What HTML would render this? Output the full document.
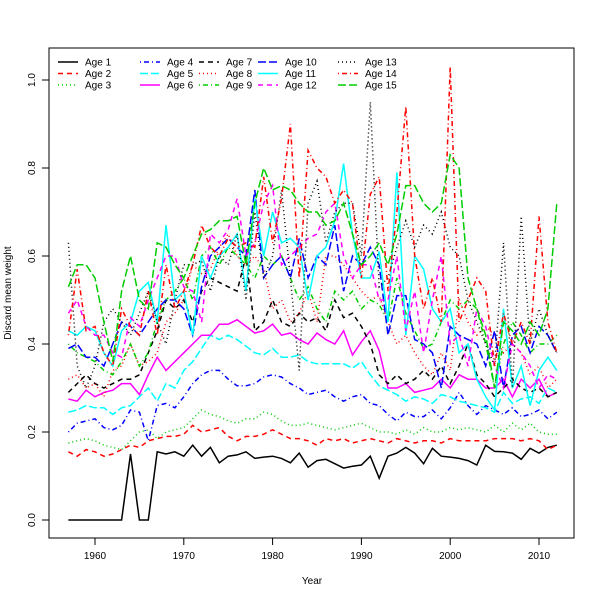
<!DOCTYPE html>
<html><head><meta charset="utf-8"><style>
body{margin:0;background:#fff}
svg{font-family:"Liberation Sans",sans-serif}
</style></head><body>
<svg id="chart" width="600" height="600" xmlns="http://www.w3.org/2000/svg">
<rect x="49" y="48" width="525" height="490" fill="none" stroke="#000"/>
<g id="axes"></g><g id="series"></g><g id="legend"></g>
<text x="312" y="584" font-size="10" text-anchor="middle">Year</text>
<text x="11" y="293" font-size="10" text-anchor="middle" transform="rotate(-90 11 293)">Discard mean weight</text>
</svg>
<script>
const startYear = 1957;
const xTicks = [1960,1970,1980,1990,2000,2010];
const yTicks = [0,0.2,0.4,0.6,0.8,1.0];
const yTickLabels = ["0.0","0.2","0.4","0.6","0.8","1.0"];
const seriesNames = ["Age 1","Age 2","Age 3","Age 4","Age 5","Age 6","Age 7","Age 8","Age 9","Age 10","Age 11","Age 12","Age 13","Age 14","Age 15"];
const age1 = [0,0,0,0,0,0,0,0.15,0,0,0.155,0.15,0.155,0.145,0.17,0.145,0.165,0.13,0.145,0.148,0.155,0.14,0.143,0.145,0.14,0.13,0.152,0.12,0.135,0.138,0.128,0.118,0.122,0.125,0.145,0.095,0.145,0.152,0.165,0.152,0.128,0.163,0.145,0.143,0.14,0.135,0.125,0.17,0.156,0.155,0.152,0.138,0.163,0.152,0.165,0.17];
const age2 = [0.155,0.145,0.16,0.155,0.145,0.15,0.16,0.17,0.165,0.18,0.185,0.19,0.19,0.195,0.215,0.2,0.205,0.21,0.19,0.18,0.19,0.19,0.195,0.205,0.195,0.185,0.185,0.18,0.17,0.185,0.18,0.185,0.175,0.18,0.185,0.18,0.175,0.185,0.18,0.175,0.18,0.18,0.175,0.185,0.18,0.18,0.18,0.18,0.185,0.185,0.185,0.18,0.185,0.18,0.16,0.17];
const age3 = [0.175,0.18,0.185,0.18,0.17,0.165,0.16,0.18,0.2,0.205,0.185,0.2,0.205,0.21,0.23,0.25,0.24,0.235,0.225,0.22,0.23,0.23,0.245,0.24,0.225,0.215,0.215,0.22,0.215,0.21,0.205,0.21,0.215,0.22,0.21,0.2,0.2,0.195,0.205,0.195,0.21,0.2,0.2,0.21,0.205,0.21,0.205,0.2,0.215,0.2,0.22,0.205,0.22,0.2,0.195,0.195];
const age4 = [0.2,0.22,0.225,0.23,0.21,0.205,0.215,0.25,0.245,0.18,0.26,0.265,0.255,0.28,0.31,0.33,0.34,0.34,0.32,0.305,0.305,0.31,0.325,0.33,0.325,0.31,0.3,0.285,0.29,0.295,0.28,0.27,0.28,0.285,0.265,0.26,0.24,0.225,0.245,0.235,0.235,0.25,0.23,0.255,0.29,0.26,0.24,0.26,0.25,0.24,0.255,0.235,0.24,0.25,0.23,0.245];
const age5 = [0.245,0.25,0.26,0.255,0.255,0.24,0.255,0.26,0.28,0.3,0.27,0.31,0.3,0.34,0.36,0.39,0.42,0.41,0.42,0.41,0.395,0.38,0.375,0.39,0.37,0.37,0.375,0.36,0.355,0.355,0.355,0.355,0.345,0.36,0.33,0.305,0.295,0.285,0.27,0.28,0.275,0.265,0.285,0.28,0.27,0.265,0.26,0.255,0.245,0.29,0.265,0.275,0.28,0.265,0.3,0.29];
const age6 = [0.275,0.27,0.295,0.28,0.29,0.295,0.31,0.31,0.285,0.33,0.37,0.34,0.36,0.38,0.4,0.42,0.42,0.445,0.445,0.455,0.44,0.425,0.43,0.445,0.42,0.425,0.41,0.4,0.425,0.41,0.4,0.43,0.375,0.405,0.43,0.385,0.3,0.3,0.31,0.29,0.295,0.3,0.32,0.3,0.33,0.32,0.32,0.3,0.3,0.32,0.28,0.32,0.3,0.32,0.28,0.29];
const age7 = [0.29,0.31,0.33,0.31,0.3,0.31,0.32,0.32,0.33,0.38,0.43,0.5,0.48,0.5,0.45,0.52,0.55,0.54,0.53,0.52,0.6,0.43,0.45,0.5,0.45,0.44,0.47,0.45,0.46,0.43,0.5,0.46,0.47,0.44,0.4,0.33,0.31,0.33,0.31,0.32,0.34,0.32,0.35,0.31,0.35,0.4,0.33,0.31,0.28,0.3,0.32,0.3,0.29,0.3,0.28,0.29];
const age8 = [0.32,0.33,0.3,0.31,0.28,0.34,0.35,0.4,0.35,0.36,0.38,0.45,0.47,0.5,0.58,0.56,0.57,0.62,0.65,0.6,0.58,0.6,0.57,0.48,0.5,0.45,0.47,0.52,0.45,0.6,0.6,0.58,0.55,0.52,0.5,0.51,0.45,0.4,0.42,0.38,0.35,0.33,0.38,0.34,0.5,0.45,0.42,0.44,0.42,0.38,0.4,0.38,0.33,0.35,0.3,0.32];
const age9 = [0.4,0.38,0.37,0.36,0.34,0.33,0.36,0.4,0.35,0.38,0.45,0.5,0.52,0.55,0.5,0.6,0.62,0.58,0.62,0.6,0.58,0.55,0.6,0.58,0.6,0.55,0.5,0.53,0.48,0.45,0.52,0.5,0.52,0.48,0.5,0.49,0.45,0.55,0.47,0.43,0.39,0.4,0.45,0.5,0.48,0.5,0.48,0.4,0.3,0.4,0.45,0.42,0.38,0.4,0.4,0.42];
const age10 = [0.39,0.4,0.37,0.37,0.35,0.4,0.45,0.44,0.42,0.45,0.48,0.5,0.5,0.48,0.42,0.53,0.6,0.62,0.64,0.62,0.6,0.75,0.55,0.58,0.6,0.55,0.64,0.55,0.6,0.58,0.67,0.52,0.6,0.58,0.62,0.58,0.42,0.51,0.51,0.41,0.4,0.38,0.3,0.44,0.42,0.41,0.4,0.35,0.43,0.3,0.42,0.44,0.38,0.44,0.42,0.38];
const age11 = [0.43,0.42,0.44,0.43,0.38,0.35,0.43,0.45,0.52,0.54,0.45,0.67,0.5,0.52,0.42,0.6,0.55,0.6,0.62,0.65,0.52,0.73,0.6,0.7,0.63,0.64,0.62,0.5,0.6,0.62,0.68,0.81,0.65,0.55,0.55,0.61,0.45,0.79,0.42,0.6,0.57,0.48,0.45,0.48,0.38,0.4,0.32,0.28,0.25,0.48,0.3,0.35,0.26,0.34,0.37,0.34];
const age12 = [0.47,0.5,0.44,0.42,0.42,0.38,0.37,0.46,0.44,0.5,0.55,0.6,0.6,0.53,0.52,0.45,0.65,0.63,0.66,0.73,0.6,0.63,0.72,0.76,0.58,0.6,0.62,0.64,0.65,0.7,0.72,0.6,0.55,0.58,0.58,0.5,0.5,0.6,0.43,0.52,0.38,0.5,0.6,0.4,0.42,0.35,0.48,0.44,0.35,0.3,0.4,0.38,0.35,0.3,0.33,0.32];
const age13 = [0.63,0.35,0.3,0.35,0.45,0.48,0.45,0.42,0.47,0.52,0.45,0.4,0.5,0.58,0.58,0.59,0.52,0.6,0.58,0.65,0.5,0.7,0.55,0.6,0.75,0.55,0.34,0.72,0.77,0.63,0.7,0.72,0.72,0.6,0.95,0.53,0.55,0.62,0.68,0.62,0.67,0.65,0.7,0.62,0.6,0.5,0.45,0.4,0.35,0.63,0.3,0.69,0.4,0.48,0.42,0.38];
const age14 = [0.42,0.57,0.43,0.44,0.38,0.35,0.48,0.44,0.42,0.52,0.42,0.58,0.48,0.52,0.58,0.67,0.62,0.6,0.64,0.62,0.63,0.62,0.78,0.63,0.73,0.9,0.55,0.84,0.8,0.78,0.72,0.75,0.72,0.55,0.74,0.78,0.52,0.7,0.94,0.6,0.48,0.55,0.45,1.03,0.45,0.5,0.55,0.52,0.35,0.47,0.4,0.45,0.4,0.69,0.45,0.38];
const age15 = [0.53,0.58,0.58,0.55,0.45,0.36,0.52,0.6,0.5,0.48,0.63,0.62,0.58,0.55,0.6,0.65,0.66,0.68,0.68,0.69,0.58,0.72,0.8,0.75,0.76,0.75,0.72,0.7,0.7,0.67,0.68,0.72,0.65,0.58,0.6,0.63,0.58,0.65,0.76,0.76,0.72,0.7,0.72,0.83,0.8,0.55,0.48,0.42,0.3,0.45,0.43,0.4,0.45,0.42,0.48,0.72];
const allSeries = [age1,age2,age3,age4,age5,age6,age7,age8,age9,age10,age11,age12,age13,age14,age15];

const NS = "http://www.w3.org/2000/svg";
const colors = ["#000","#f00","#00cd00","#00f","#0ff","#f0f"];
const dashes = ["", "5 4", "1 3", "1 3 5 3", "8 3"];
function xPos(year){ return 95 + (year-1960)*8.88; }
function yPos(v){ return 520 - v*440; }
function mk(tag, attrs, parent){ const e=document.createElementNS(NS,tag); for(const k in attrs) e.setAttribute(k,attrs[k]); parent.appendChild(e); return e; }

const axes = document.getElementById('axes');
xTicks.forEach(t=>{
  const l = mk('line',{x1:xPos(t),x2:xPos(t),y1:538,y2:545,stroke:'#000'},axes);
  
  
  const tx = mk('text',{x:xPos(t),y:559,'font-size':10,'text-anchor':'middle'},axes);
  tx.textContent = t;
  
  
});
yTicks.forEach((t,i)=>{
  const l = mk('line',{x1:42,x2:49,y1:yPos(t),y2:yPos(t),stroke:'#000'},axes);
  
  
  const tx = mk('text',{x:35,y:yPos(t),'font-size':10,'text-anchor':'middle',transform:`rotate(-90 35 ${yPos(t)})`},axes);
  tx.textContent = yTickLabels[i];
  
  
});

const sg = document.getElementById('series');
allSeries.forEach((vals,i)=>{
  const pts = vals.map((v,j)=>xPos(startYear+j).toFixed(1)+','+yPos(v).toFixed(1)).join(' ');
  const pl = mk('polyline',{points:pts,fill:'none',stroke:colors[i%6],'stroke-width':1.5,'stroke-dasharray':dashes[i%5]},sg);
  
  
});

const lg = document.getElementById('legend');
const colX = [58,140,199,258,338];
seriesNames.forEach((n,i)=>{
  const c = Math.floor(i/3), r = i%3;
  const x = colX[c], y = 62 + r*11.5;
  const l = mk('line',{x1:x,x2:x+20,y1:y,y2:y,stroke:colors[i%6],'stroke-width':1.5,'stroke-dasharray':dashes[i%5]},lg);
  
  
  const t = mk('text',{x:x+27,y:y+3.5,'font-size':10},lg);
  t.textContent = n;
  
  
});
</script>
</body></html>
